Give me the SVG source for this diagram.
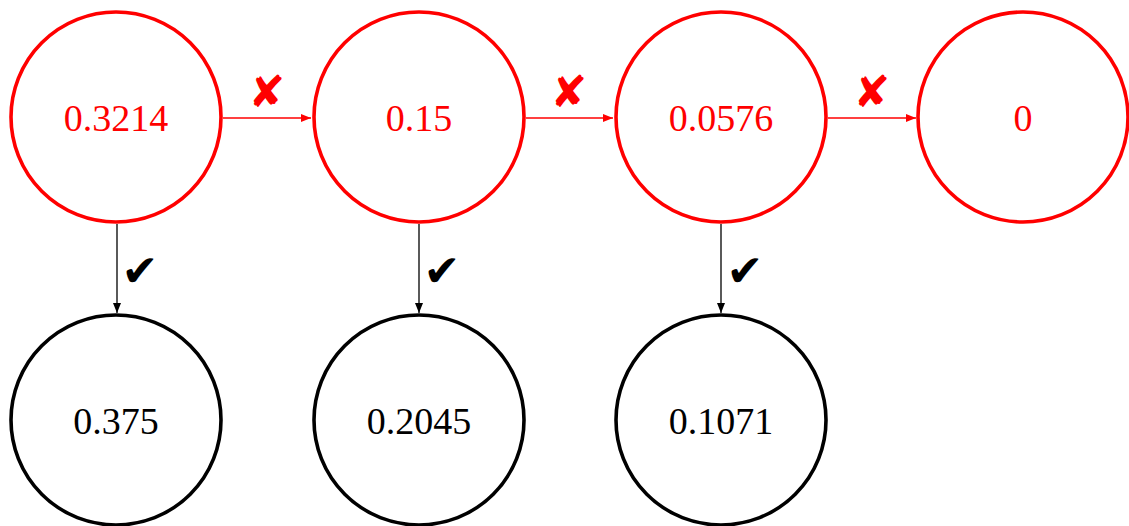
<svg xmlns="http://www.w3.org/2000/svg" width="1129" height="526" viewBox="0 0 1129 526">
<defs>
<style>
.red{fill:#fff;stroke:#f00;stroke-width:3.6}
.blk{fill:#fff;stroke:#000;stroke-width:3.6}
.t{font-family:"Liberation Serif","Times New Roman",serif;font-size:38px;text-anchor:middle}
.rt{fill:#f00}
.bt{fill:#000}
.mk{font-family:"DejaVu Sans",sans-serif;font-size:44px;text-anchor:middle}
.rl{stroke:#f00;stroke-width:1.3;fill:none}
.bl{stroke:#000;stroke-width:1.3;fill:none}
</style>
<marker id="ar" viewBox="0 0 10 10" refX="10" refY="5" markerWidth="10" markerHeight="10" markerUnits="userSpaceOnUse" orient="auto"><path d="M0,1 L10,5 L0,9 Z" fill="#f00"/></marker>
<marker id="ab" viewBox="0 0 10 10" refX="10" refY="5" markerWidth="10" markerHeight="10" markerUnits="userSpaceOnUse" orient="auto"><path d="M0,1 L10,5 L0,9 Z" fill="#000"/></marker>
</defs>
<g id="connectors">
<line class="rl" x1="223" y1="118" x2="311" y2="118" marker-end="url(#ar)"/>
<line class="rl" x1="526" y1="118" x2="613" y2="118" marker-end="url(#ar)"/>
<line class="rl" x1="828" y1="118" x2="916" y2="118" marker-end="url(#ar)"/>
<line class="bl" x1="117" y1="224" x2="117" y2="313" marker-end="url(#ab)"/>
<line class="bl" x1="419" y1="224" x2="419" y2="313" marker-end="url(#ab)"/>
<line class="bl" x1="721" y1="224" x2="721" y2="313" marker-end="url(#ab)"/>
<text class="mk rt" x="267" y="107">✘</text>
<text class="mk rt" x="569" y="107">✘</text>
<text class="mk rt" x="872" y="107">✘</text>
<text class="mk bt" x="140" y="286">✔</text>
<text class="mk bt" x="442" y="286">✔</text>
<text class="mk bt" x="745" y="286">✔</text>
</g>
<g id="n1"><circle class="red" cx="116" cy="117" r="105"/><text class="t rt" x="116" y="131">0.3214</text></g>
<g id="n2"><circle class="red" cx="419" cy="117" r="105"/><text class="t rt" x="419" y="131">0.15</text></g>
<g id="n3"><circle class="red" cx="721" cy="117" r="105"/><text class="t rt" x="721" y="131">0.0576</text></g>
<g id="n4"><circle class="red" cx="1023" cy="117" r="105"/><text class="t rt" x="1023" y="131">0</text></g>
<g id="n5"><circle class="blk" cx="116" cy="420" r="105"/><text class="t bt" x="116" y="434">0.375</text></g>
<g id="n6"><circle class="blk" cx="419" cy="420" r="105"/><text class="t bt" x="419" y="434">0.2045</text></g>
<g id="n7"><circle class="blk" cx="721" cy="420" r="105"/><text class="t bt" x="721" y="434">0.1071</text></g>
</svg>
